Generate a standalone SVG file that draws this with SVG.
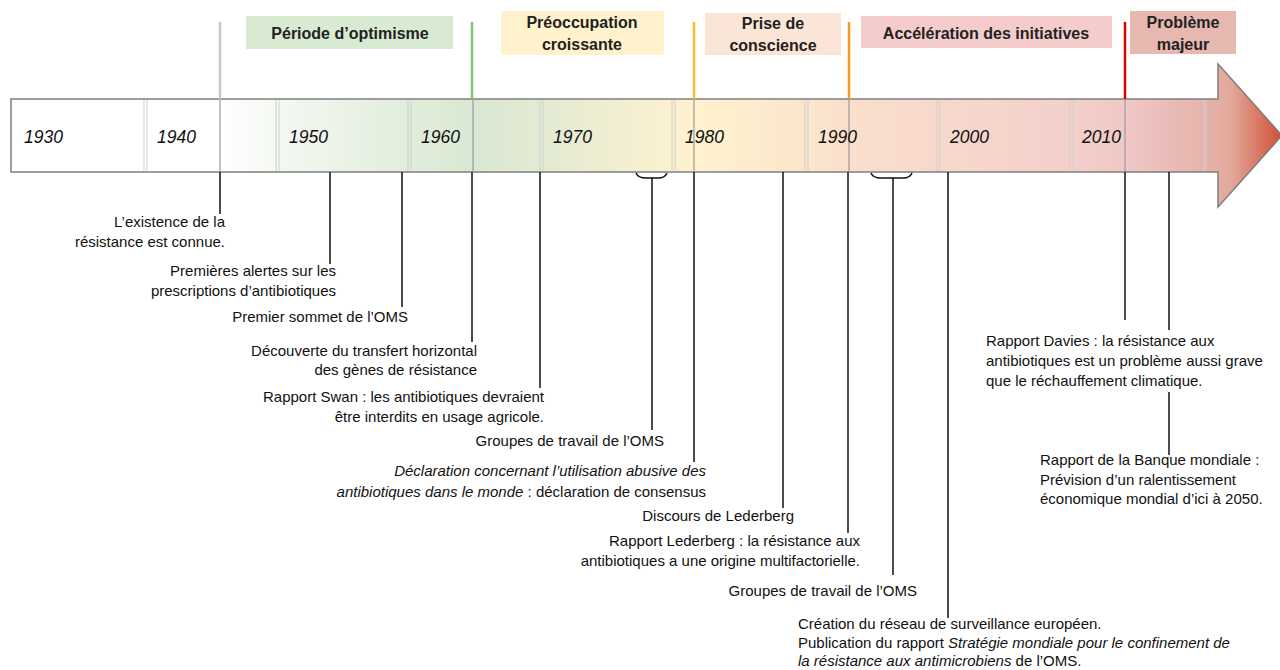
<svg xmlns="http://www.w3.org/2000/svg" width="1280" height="670" viewBox="0 0 1280 670">
<defs>
<linearGradient id="g" gradientUnits="userSpaceOnUse" x1="11" y1="0" x2="1282" y2="0">
<stop offset="0" stop-color="#ffffff"/>
<stop offset="0.164" stop-color="#ffffff"/>
<stop offset="0.21" stop-color="#f4f8f2"/>
<stop offset="0.31" stop-color="#e2eedc"/>
<stop offset="0.363" stop-color="#d9e8d3"/>
<stop offset="0.43" stop-color="#e6ebd3"/>
<stop offset="0.52" stop-color="#fbf1d0"/>
<stop offset="0.54" stop-color="#fff2cf"/>
<stop offset="0.625" stop-color="#fbe6cc"/>
<stop offset="0.66" stop-color="#fadfcc"/>
<stop offset="0.73" stop-color="#f7d9cc"/>
<stop offset="0.834" stop-color="#f3cfcb"/>
<stop offset="0.877" stop-color="#f0c8c7"/>
<stop offset="0.94" stop-color="#e5b3ab"/>
<stop offset="0.96" stop-color="#e3a899"/>
<stop offset="1" stop-color="#cf4f35"/>
</linearGradient>
</defs>
<style>
.t{font-family:"Liberation Sans",Arial,sans-serif;font-size:15px;fill:#111}
.r{text-anchor:end}
.h{font-family:"Liberation Sans",Arial,sans-serif;font-size:16px;font-weight:bold;fill:#222;text-anchor:middle}
.y{font-family:"Liberation Sans",Arial,sans-serif;font-size:17.5px;font-style:italic;fill:#111}
.i{font-style:italic}
.dv{stroke:#cfcfcf;stroke-width:1}
.pl{stroke:#9a9a9a;stroke-width:1.2}
.ev{stroke:#111;stroke-width:1.5;fill:none}
.pt{stroke-width:2.5}
</style>

<g id="arrow">
<path d="M11,99 H1218 V64 L1282,135.5 L1218,207 V172 H11 Z" fill="url(#g)" stroke="#7f7f7f" stroke-width="1.5"/>
<g id="dividers">
<line class="dv" x1="144" y1="100" x2="144" y2="171"/><line class="dv" x1="147" y1="100" x2="147" y2="171"/>
<line class="dv" x1="276" y1="100" x2="276" y2="171"/><line class="dv" x1="279" y1="100" x2="279" y2="171"/>
<line class="dv" x1="408" y1="100" x2="408" y2="171"/><line class="dv" x1="411" y1="100" x2="411" y2="171"/>
<line class="dv" x1="540" y1="100" x2="540" y2="171"/><line class="dv" x1="543" y1="100" x2="543" y2="171"/>
<line class="dv" x1="672" y1="100" x2="672" y2="171"/><line class="dv" x1="675" y1="100" x2="675" y2="171"/>
<line class="dv" x1="805" y1="100" x2="805" y2="171"/><line class="dv" x1="808" y1="100" x2="808" y2="171"/>
<line class="dv" x1="937" y1="100" x2="937" y2="171"/><line class="dv" x1="940" y1="100" x2="940" y2="171"/>
<line class="dv" x1="1070" y1="100" x2="1070" y2="171"/><line class="dv" x1="1073" y1="100" x2="1073" y2="171"/>
<line class="dv" x1="1204" y1="100" x2="1204" y2="171"/><line class="dv" x1="1206" y1="100" x2="1206" y2="171"/>
</g>
<g id="period-lines-inside">
<line class="pl" x1="220" y1="99" x2="220" y2="172"/>
<line class="pl" x1="473" y1="99" x2="473" y2="172"/>
<line class="pl" x1="694" y1="99" x2="694" y2="172"/>
<line class="pl" x1="849" y1="99" x2="849" y2="172"/>
<line class="pl" x1="1125" y1="99" x2="1125" y2="172"/>
</g>
<g id="years">
<text class="y" x="24" y="143">1930</text>
<text class="y" x="157" y="143">1940</text>
<text class="y" x="289" y="143">1950</text>
<text class="y" x="421" y="143">1960</text>
<text class="y" x="553" y="143">1970</text>
<text class="y" x="685" y="143">1980</text>
<text class="y" x="818" y="143">1990</text>
<text class="y" x="950" y="143">2000</text>
<text class="y" x="1082" y="143">2010</text>
</g>
</g>

<g id="periods">
<g id="p-optimisme">
<rect x="246" y="16" width="207" height="33" fill="#d9ead3"/>
<text class="h" x="350" y="39">Période d’optimisme</text>
</g>
<g id="p-preoccupation">
<rect x="501" y="11" width="163" height="44" fill="#fff2cc"/>
<text class="h" x="582" y="28">Préoccupation</text>
<text class="h" x="582" y="50">croissante</text>
</g>
<g id="p-prise">
<rect x="705" y="13" width="136" height="42" fill="#fbe5d6"/>
<text class="h" x="773" y="29">Prise de</text>
<text class="h" x="773" y="51">conscience</text>
</g>
<g id="p-acceleration">
<rect x="861" y="16" width="251" height="32" fill="#f4cccc"/>
<text class="h" x="986" y="39">Accélération des initiatives</text>
</g>
<g id="p-probleme">
<rect x="1130" y="11" width="106" height="43" fill="#e6b8af"/>
<text class="h" x="1183" y="28">Problème</text>
<text class="h" x="1183" y="50">majeur</text>
</g>
</g>

<g id="connectors">
<line class="pt" x1="220" y1="22" x2="220" y2="99" stroke="#c8c8c8"/>
<line class="pt" x1="472" y1="22" x2="472" y2="99" stroke="#84c472"/>
<line class="pt" x1="694" y1="22" x2="694" y2="99" stroke="#f4bd2a"/>
<line class="pt" x1="849" y1="22" x2="849" y2="99" stroke="#f79a1f"/>
<line class="pt" x1="1125" y1="22" x2="1125" y2="99" stroke="#e00000"/>

<line class="ev" x1="220" y1="172" x2="220" y2="214"/>
<line class="ev" x1="330" y1="172" x2="330" y2="264"/>
<line class="ev" x1="402" y1="172" x2="402" y2="307"/>
<line class="ev" x1="472" y1="172" x2="472" y2="342"/>
<line class="ev" x1="540" y1="172" x2="540" y2="388"/>
<path class="ev" d="M636,173 Q638,178 646,178 H658 Q665,178 667,173"/>
<line class="ev" x1="652" y1="178" x2="652" y2="430"/>
<line class="ev" x1="694" y1="172" x2="694" y2="462"/>
<line class="ev" x1="783" y1="172" x2="783" y2="508"/>
<line class="ev" x1="848" y1="172" x2="848" y2="533"/>
<path class="ev" d="M871,173 Q873,178 881,178 H903 Q910,178 912,173"/>
<line class="ev" x1="893" y1="178" x2="893" y2="575"/>
<line class="ev" x1="948" y1="172" x2="948" y2="618"/>
<line class="ev" x1="1125" y1="172" x2="1125" y2="320"/>
<line class="ev" x1="1169" y1="172" x2="1169" y2="330"/>
<line class="ev" x1="1169" y1="392" x2="1169" y2="455"/>
</g>

<g id="events">
<g id="e1"><text class="t r" x="225" y="227">L’existence de la</text><text class="t r" x="225" y="247">résistance est connue.</text></g>
<g id="e2"><text class="t r" x="336" y="276">Premières alertes sur les</text><text class="t r" x="336" y="296">prescriptions d’antibiotiques</text></g>
<g id="e3"><text class="t r" x="408" y="322">Premier sommet de l’OMS</text></g>
<g id="e4"><text class="t r" x="477" y="356">Découverte du transfert horizontal</text><text class="t r" x="477" y="375">des gènes de résistance</text></g>
<g id="e5"><text class="t r" x="544" y="402">Rapport Swan : les antibiotiques devraient</text><text class="t r" x="544" y="422">être interdits en usage agricole.</text></g>
<g id="e6"><text class="t r" x="664" y="446">Groupes de travail de l’OMS</text></g>
<g id="e7"><text class="t r i" x="706" y="476">Déclaration concernant l’utilisation abusive des</text><text class="t r" x="706" y="497"><tspan class="i">antibiotiques dans le monde</tspan> : déclaration de consensus</text></g>
<g id="e8"><text class="t r" x="794" y="521">Discours de Lederberg</text></g>
<g id="e9"><text class="t r" x="860" y="546">Rapport Lederberg : la résistance aux</text><text class="t r" x="860" y="566">antibiotiques a une origine multifactorielle.</text></g>
<g id="e10"><text class="t r" x="917" y="596">Groupes de travail de l’OMS</text></g>
<g id="e11"><text class="t" x="798" y="629">Création du réseau de surveillance européen.</text><text class="t" x="798" y="648">Publication du rapport <tspan class="i">Stratégie mondiale pour le confinement de</tspan></text><text class="t" x="798" y="666"><tspan class="i">la résistance aux antimicrobiens</tspan> de l’OMS.</text></g>
<g id="e12"><text class="t" x="986" y="346">Rapport Davies : la résistance aux</text><text class="t" x="986" y="366">antibiotiques est un problème aussi grave</text><text class="t" x="986" y="386">que le réchauffement climatique.</text></g>
<g id="e13"><text class="t" x="1040" y="465">Rapport de la Banque mondiale :</text><text class="t" x="1040" y="485">Prévision d’un ralentissement</text><text class="t" x="1040" y="504">économique mondial d’ici à 2050.</text></g>
</g>
</svg>
